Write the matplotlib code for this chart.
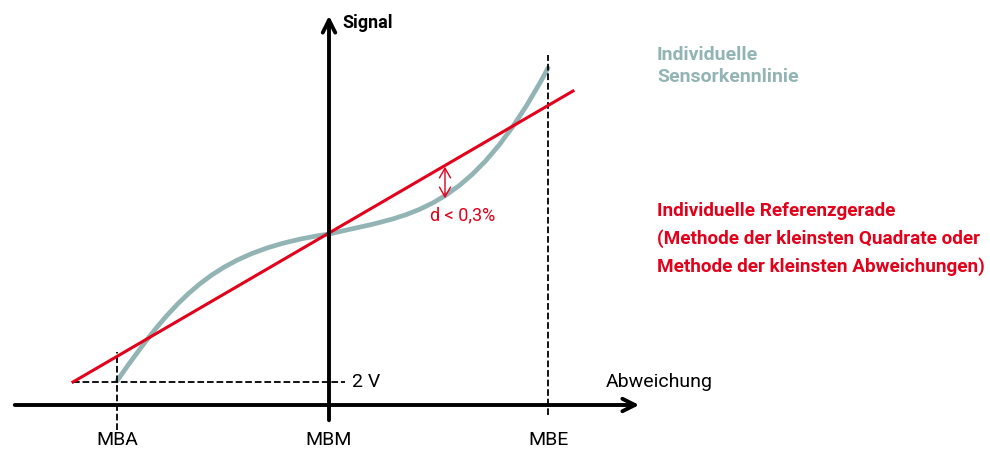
import matplotlib.pyplot as plt
from matplotlib.patches import FancyArrowPatch, PathPatch
from matplotlib.path import Path

plt.rcParams['font.family'] = ['Roboto', 'DejaVu Sans']

# Koordinaten im Bildraster (x nach rechts, y nach oben, 990 x 450)
ticks_x = [117, 329, 548]
ticks_lbl = ["MBA", "MBM", "MBE"]

# Individuelle Sensorkennlinie: Bezier-Stuetzpunkte
kenn_x = [117, 180, 220, 329, 410, 470, 548]
kenn_y = [69, 160, 200, 216, 235, 235, 382]

# Referenzgerade
ref_x = [73, 573]
ref_y = [68, 359]

nullpunkt_y = 68   # 2 V
rot = "#e2001a"
grau = "#93b4b4"

fig = plt.figure(figsize=(9.9, 4.5), dpi=100)
ax = fig.add_axes([0, 0, 1, 1])
ax.set_xlim(0, 990)
ax.set_ylim(0, 450)
ax.axis("off")

# Achsen
ax.annotate("", xy=(642, 45), xytext=(12, 45),
            arrowprops=dict(arrowstyle="->,head_length=0.9,head_width=0.45", lw=2.8, color="black"))
ax.annotate("", xy=(329, 437), xytext=(329, 27),
            arrowprops=dict(arrowstyle="->,head_length=0.9,head_width=0.45", lw=2.8, color="black"))
ax.text(342, 427, "Signal", fontsize=13, fontweight="bold", va="center")
ax.text(606, 68, "Abweichung", fontsize=14, va="center")

# Hilfslinien
ax.plot([ticks_x[0], ticks_x[0]], [20, 98], ls="--", color="black", lw=1.3)
ax.plot([ticks_x[2], ticks_x[2]], [35, 395], ls="--", color="black", lw=1.3)
ax.plot([73, 345], [nullpunkt_y, nullpunkt_y], ls="--", color="black", lw=1.3)
ax.text(352, nullpunkt_y, "2 V", fontsize=14, va="center")

for x, lbl in zip(ticks_x, ticks_lbl):
    ax.text(x, 10, lbl, fontsize=14, ha="center", va="center")

# Kurven
ax.plot(ref_x, ref_y, color=rot, lw=2.2)
codes = [Path.MOVETO] + [Path.CURVE4] * (len(kenn_x) - 1)
kenn = Path(list(zip(kenn_x, kenn_y)), codes)
ax.add_patch(PathPatch(kenn, facecolor="none", edgecolor=grau, lw=3.4, capstyle="round"))

# Abstand d
ax.add_patch(FancyArrowPatch((445, 286), (445, 249), arrowstyle="<->,head_length=7,head_width=4",
                             color=rot, lw=1.0, mutation_scale=1))
ax.text(430, 235, "d < 0,3%", fontsize=13, color=rot, va="center")

# Legende
ax.text(657, 384, "Individuelle\nSensorkennlinie", fontsize=14, fontweight="bold",
        color=grau, va="center", linespacing=1.25)
ax.text(657, 211, "Individuelle Referenzgerade\n(Methode der kleinsten Quadrate oder\n"
        "Methode der kleinsten Abweichungen)", fontsize=13.6, fontweight="bold",
        color=rot, va="center", linespacing=1.6)

fig.savefig("out.png", dpi=100)
